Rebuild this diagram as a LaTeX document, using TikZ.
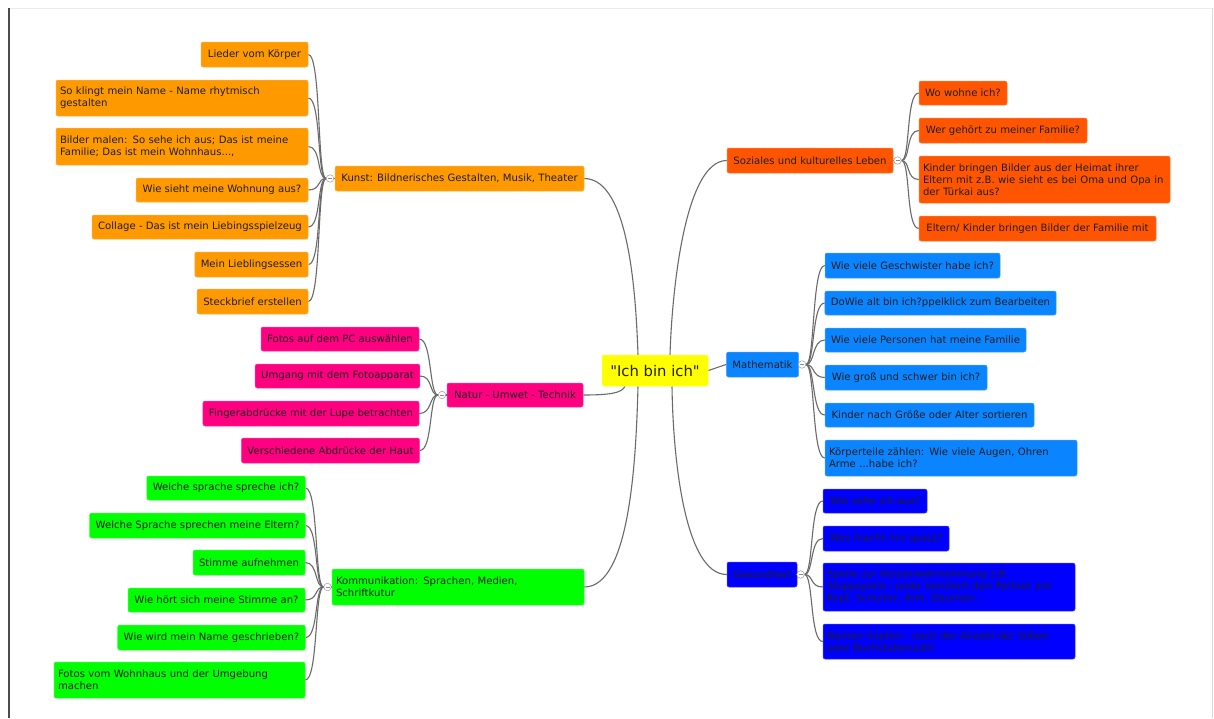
\documentclass[tikz,border=0pt]{standalone}
\usepackage{fontspec}
\setmainfont{DejaVu Sans}
\newfontfamily\plainfont{DejaVu Sans}
\usetikzlibrary{calc}
\definecolor{cOr}{HTML}{FF9900}
\definecolor{cPk}{HTML}{FF0080}
\definecolor{cGr}{HTML}{00FF00}
\definecolor{cRd}{HTML}{FF5500}
\definecolor{cBl}{HTML}{0A84FF}
\definecolor{cDb}{HTML}{0000FF}
\definecolor{cYe}{HTML}{FFFF00}
\definecolor{cLn}{HTML}{6A6A6A}
\pgfdeclarelayer{bg}
\pgfsetlayers{bg,main}
\tikzset{
  box/.style={rounded corners=2pt, inner xsep=6pt, inner ysep=0pt, text=black!88,
    font=\fontsize{10.1}{12}\selectfont, line width=0.5pt},
  orb/.style={box, fill=cOr, draw=cOr!75!white},
  pkb/.style={box, fill=cPk, draw=cPk!75!white},
  grb/.style={box, fill=cGr, draw=cGr!75!white},
  rdb/.style={box, fill=cRd, draw=cRd!75!white},
  blb/.style={box, fill=cBl, draw=cBl!75!white},
  dbb/.style={box, fill=cDb, draw=cDb!75!white},
  conn/.style={draw=cLn, line width=1.1pt},
  lc/.style={out=0, in=180, out distance=13pt, in distance=9pt},
  rc/.style={out=0, in=180, out distance=9pt, in distance=13pt},
  knob/.style={circle, minimum size=7.5pt, inner sep=0pt, draw=black!40, fill=white, line width=0.5pt,
    path picture={\draw[black!45, line width=0.5pt] ([xshift=-2pt]path picture bounding box.center) -- ([xshift=2pt]path picture bounding box.center);}}
}
% single-line box, text centred
\newcommand\sbx[7]{%
  \pgfmathsetmacro\bxw{#4-#2}\pgfmathsetmacro\bxh{#5-#3}%
  \node[#6, minimum width=\bxw pt, minimum height=\bxh pt, align=center] (#1) at ({(#2+#4)/2},{-(#3+#5)/2}) {#7};}
% multi-line box, text left aligned
\newcommand\mbx[7]{%
  \pgfmathsetmacro\bxw{#4-#2}\pgfmathsetmacro\bxh{#5-#3}\pgfmathsetmacro\bxt{#4-#2-8}%
  \node[#6, inner xsep=4pt, minimum width=\bxw pt, minimum height=\bxh pt, text width=\bxt pt, align=left] (#1) at ({(#2+#4)/2},{-(#3+#5)/2}) {#7};}
\begin{document}
\begin{tikzpicture}[x=1pt, y=1pt]
\useasboundingbox (0,0) rectangle (1214,-718);
\begin{pgfonlayer}{bg}
\fill[white] (0,0) rectangle (1214,-718);
\end{pgfonlayer}
% page frame
\draw[black!8, line width=1pt] (9,-8) -- (1213,-8);
\draw[black!15, line width=1pt] (1212.5,-8) -- (1212.5,-718);
\draw[black!70, line width=2.4pt] (9,-8) -- (9,-718);

% centre
\node[box, fill=cYe, draw=cYe!75!white, minimum width=106pt, minimum height=31pt,
  font=\plainfont\fontsize{14.8}{16}\selectfont] (c) at (655,-370.5) {"Ich bin ich"};

% Kunst
\sbx{kunst}{335}{166}{584}{191}{orb}{Kunst: Bildnerisches Gestalten, Musik, Theater}
\sbx{o1}{201}{42}{308}{67}{orb}{Lieder vom Körper}
\mbx{o2}{56}{80}{308}{116}{orb}{So klingt mein Name - Name rhytmisch\\gestalten}
\mbx{o3}{56}{128}{308}{165}{orb}{Bilder malen: So sehe ich aus; Das ist meine\\Familie; Das ist mein Wohnhaus...,}
\sbx{o4}{136}{178}{308}{202}{orb}{Wie sieht meine Wohnung aus?}
\sbx{o5}{92}{215}{308}{239}{orb}{Collage - Das ist mein Liebingsspielzeug}
\sbx{o6}{195}{252}{308}{277}{orb}{Mein Lieblingsessen}
\sbx{o7}{197}{289}{308}{314}{orb}{Steckbrief erstellen}
\node[knob] (kk) at (330,-178.5) {};

% Natur
\sbx{natur}{447}{383}{583}{407}{pkb}{Natur - Umwet - Technik}
\sbx{p1}{261}{327}{419}{351}{pkb}{Fotos auf dem PC auswählen}
\sbx{p2}{256}{364}{419}{388}{pkb}{Umgang mit dem Fotoapparat}
\sbx{p3}{203}{401}{419}{426}{pkb}{Fingerabdrücke mit der Lupe betrachten}
\sbx{p4}{242}{438}{419}{463}{pkb}{Verschiedene Abdrücke der Haut}
\node[knob] (nk) at (442,-395) {};

% Kommunikation
\mbx{komm}{332}{569}{584}{605}{grb}{Kommunikation: Sprachen, Medien,\\Schriftkutur}
\sbx{g1}{147}{476}{305}{500}{grb}{Welche sprache spreche ich?}
\sbx{g2}{90}{513}{305}{538}{grb}{Welche Sprache sprechen meine Eltern?}
\sbx{g3}{193}{550}{305}{575}{grb}{Stimme aufnehmen}
\sbx{g4}{128}{588}{305}{612}{grb}{Wie hört sich meine Stimme an?}
\sbx{g5}{118}{625}{305}{650}{grb}{Wie wird mein Name geschrieben?}
\mbx{g6}{54}{662}{305}{698}{grb}{Fotos vom Wohnhaus und der Umgebung\\machen}
\node[knob] (gk) at (327.5,-587) {};

% Soziales
\sbx{soz}{727}{148}{893}{173}{rdb}{Soziales und kulturelles Leben}
\sbx{r1}{919}{81}{1007}{105}{rdb}{Wo wohne ich?}
\sbx{r2}{919}{118}{1087}{143}{rdb}{Wer gehört zu meiner Familie?}
\mbx{r3}{919}{156}{1170}{203}{rdb}{Kinder bringen Bilder aus der Heimat ihrer\\Eltern mit z.B. wie sieht es bei Oma und Opa in\\der Türkai aus?}
\sbx{r4}{919}{216}{1156}{241}{rdb}{Eltern/ Kinder bringen Bilder der Familie mit}
\node[knob] (sk) at (897.5,-160.5) {};

% Mathematik
\sbx{mathe}{727}{352}{798}{377}{blb}{Mathematik}
\sbx{b1}{825}{253}{1000}{278}{blb}{Wie viele Geschwister habe ich?}
\sbx{b2}{825}{291}{1056}{315}{blb}{DoWie alt bin ich?ppelklick zum Bearbeiten}
\sbx{b3}{825}{328}{1026}{352}{blb}{Wie viele Personen hat meine Familie}
\sbx{b4}{825}{365}{987}{390}{blb}{Wie groß und schwer bin ich?}
\sbx{b5}{825}{403}{1034}{427}{blb}{Kinder nach Größe oder Alter sortieren}
\mbx{b6}{825}{440}{1077}{476}{blb}{Körperteile zählen: Wie viele Augen, Ohren\\Arme ...habe ich?}
\node[knob] (mk) at (802,-364.5) {};

% Gesundheit
\sbx{ges}{727}{562}{797}{587}{dbb}{Gesundheit}
\sbx{d1}{823}{489}{927}{513}{dbb}{Wie sehe ich aus?}
\sbx{d2}{823}{526}{949}{551}{dbb}{Was macht mir spass?}
\mbx{d3}{823}{563}{1075}{611}{dbb}{Spiele zur Körperwahrnehmung z.B.\\Stoppspiele / jeder berühert den Partner am\\Kopf, Schulter, Arm, Daumen...}
\mbx{d4}{823}{624}{1075}{659}{dbb}{Namen hüpfen - nach der Anzahl der Silben\\oder Buchstabenzahl}
\node[knob] (dk) at (800.5,-574.5) {};

\begin{pgfonlayer}{bg}
% centre to main branches
\draw[conn] (kunst.east) .. controls (630,-178.5) and (636,-300) .. ([xshift=-17pt]c.north);
\draw[conn] (soz.west) .. controls (685,-160.5) and (672,-290) .. ([xshift=15pt]c.north);
\draw[conn] (natur.east) .. controls (610,-395) and (622,-393) .. ([xshift=-30pt]c.south);
\draw[conn] (komm.east) .. controls (630,-587) and (636,-460) .. ([xshift=-17pt]c.south);
\draw[conn] (ges.west) .. controls (685,-574.5) and (673,-460) .. ([xshift=17pt]c.south);
\draw[conn] (c.east) -- (mathe.west);
% parent to knobs
\draw[conn] (kunst.west) -- (kk.center);
\draw[conn] (natur.west) -- (nk.center);
\draw[conn] (komm.west) -- (gk.center);
\draw[conn] (soz.east) -- (sk.center);
\draw[conn] (mathe.east) -- (mk.center);
\draw[conn] (ges.east) -- (dk.center);
% left children
\foreach \n in {o1,o2,o3,o4,o5,o6,o7} \draw[conn] (\n.east) to[lc] (kk.west);
\foreach \n in {p1,p2,p3,p4} \draw[conn] (\n.east) to[lc] (nk.west);
\foreach \n in {g1,g2,g3,g4,g5,g6} \draw[conn] (\n.east) to[lc] (gk.west);
% right children
\foreach \n in {r1,r2,r3,r4} \draw[conn] (sk.east) to[rc] (\n.west);
\foreach \n in {b1,b2,b3,b4,b5,b6} \draw[conn] (mk.east) to[rc] (\n.west);
\foreach \n in {d1,d2,d3,d4} \draw[conn] (dk.east) to[rc] (\n.west);
\end{pgfonlayer}
\end{tikzpicture}
\end{document}
